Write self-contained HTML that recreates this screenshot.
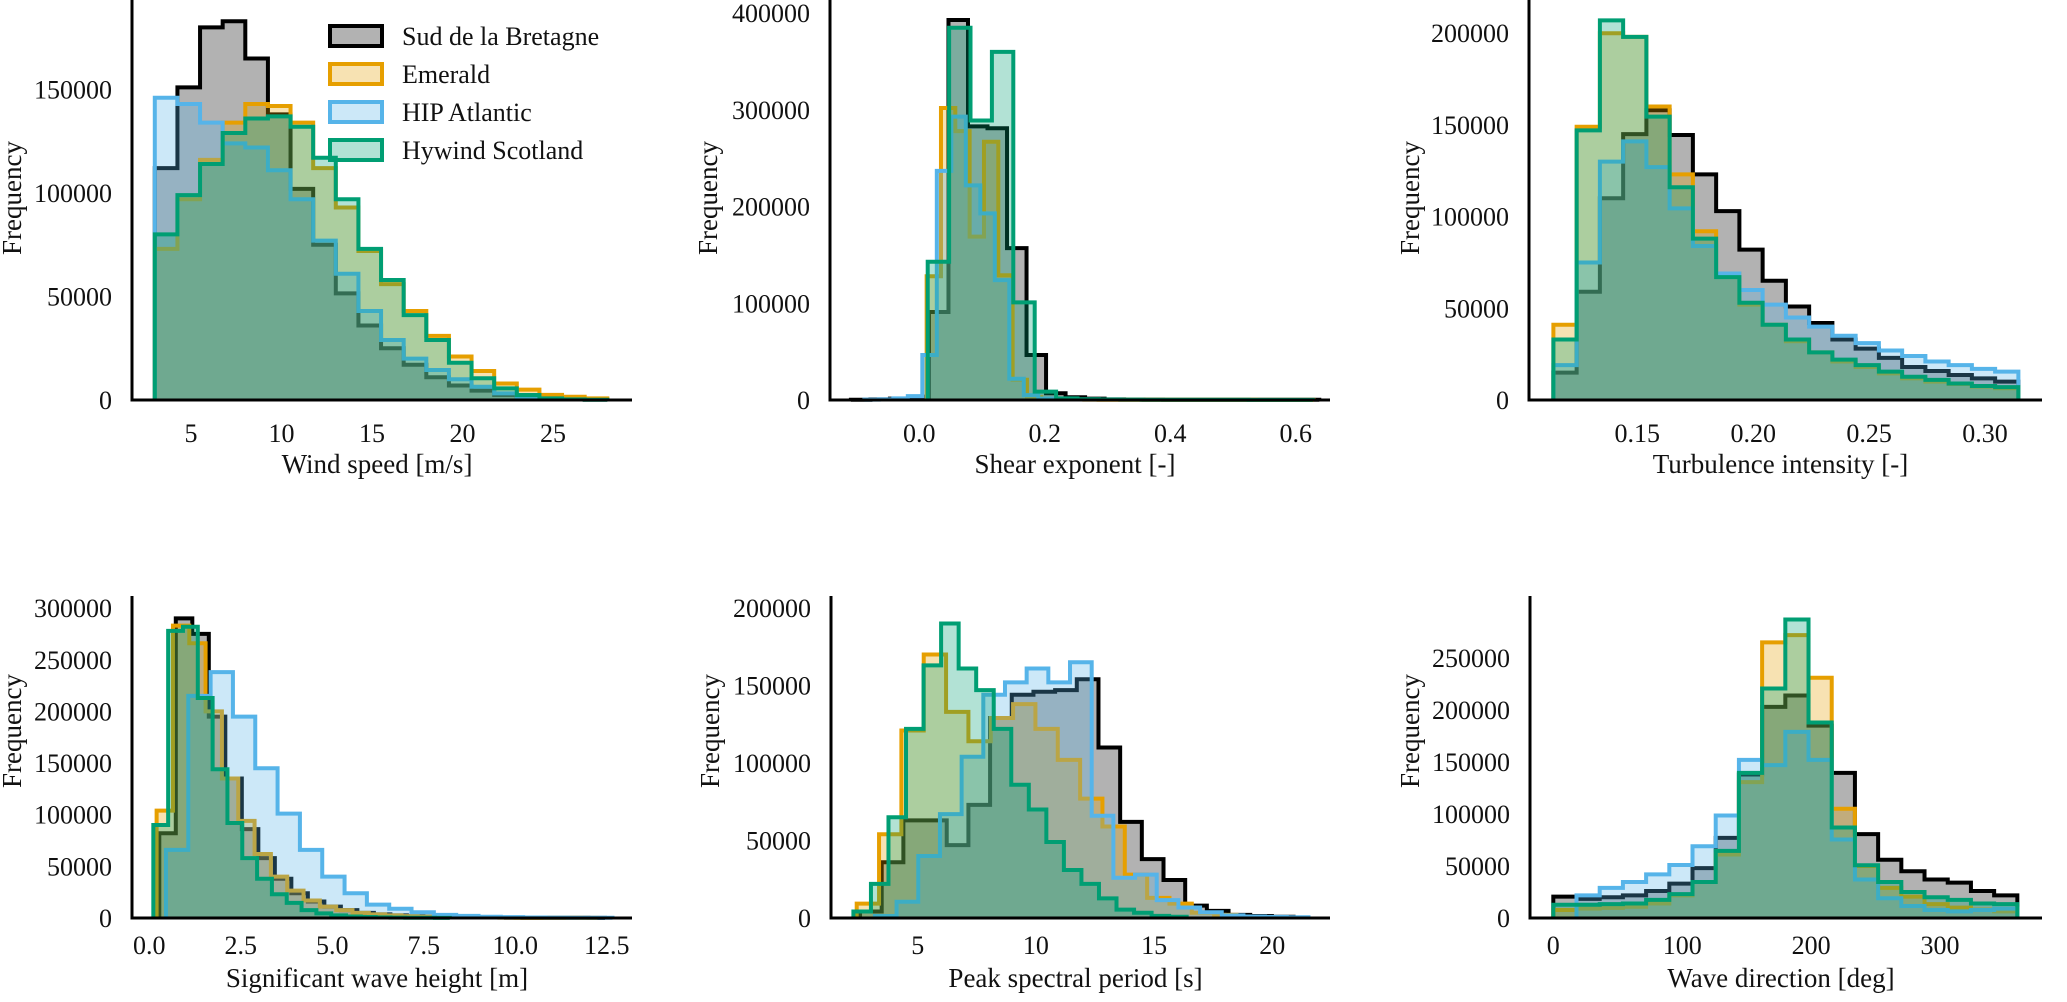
<!DOCTYPE html>
<html><head><meta charset="utf-8">
<style>
html,body{margin:0;padding:0;background:#fff;}
svg{display:block;}
svg text{font-family:"Liberation Serif","DejaVu Serif",serif;fill:#111;}
</style></head>
<body>
<svg id="fig" xmlns="http://www.w3.org/2000/svg" width="2067" height="1002" viewBox="0 0 2067 1002"></svg>
<script>
// ---------- data (counts) ----------
const seriesNames = ["Sud de la Bretagne","Emerald","HIP Atlantic","Hywind Scotland"];

// Panel 1: wind speed
const p1Start = [3.0,3.0,3.0,3.0];
const p1Width = [1.25,1.25,1.25,1.25];
const p1Sud = [112000,151000,180000,183000,165000,138000,102000,75000,51500,36000,25000,17000,11000,7000,4500,2500,1300,600,300,200];
const p1Emerald = [73000,97000,116000,134000,143000,142000,134000,112000,93000,72000,56000,43000,31000,21000,14000,8000,5000,2500,1600,800];
const p1Hip = [146000,143000,134000,124000,122000,111000,97000,77000,61000,43000,29000,20000,14500,10000,6400,3200,1300,500];
const p1Hywind = [80000,99000,114000,129000,136000,137000,132000,117000,97000,73000,58000,41000,29000,18000,10500,5600,2400,800,300,100];
const p1XTicks = [5,10,15,20,25];
const p1YTicks = [0,50000,100000,150000];

// Panel 2: shear exponent
const p2Start = [-0.109,0.0117,-0.0876,0.0134];
const p2Width = [0.0311,0.02284,0.0231,0.0341];
const p2Sud = [300,700,1400,3500,91000,393000,283000,281000,157000,46600,7000,2800,1400,700,500,400,300,300,300,200,200,200,200,200];
const p2Emerald = [128000,302000,278000,169000,267000,129000,21000,2800,1200,800,500,400,300,300,300,200,200,200,200,200,200,200,200,100,100,100,100];
const p2Hip = [400,600,1700,4000,46600,237000,293000,222000,193000,124000,22000,5000,1500,500];
const p2Hywind = [143000,385000,289000,360000,101000,8600,1700,800,500,400,300,300,200,200,200,100,100,100];
const p2XTicks = [0.0,0.2,0.4,0.6];
const p2YTicks = [0,100000,200000,300000,400000];

// Panel 3: turbulence intensity
const p3Start = [0.1138,0.1138,0.1138,0.1138];
const p3Width = [0.01003,0.01003,0.01003,0.01003];
const p3Sud = [14900,59000,110000,145000,158000,144500,123000,103000,82000,65000,51000,42000,33000,28000,23000,18000,15800,13600,11800,10000];
const p3Emerald = [41000,149000,200000,198000,160000,123000,92000,69000,52000,41000,32000,26000,21000,18000,14500,11800,10000,8700,7300,6400];
const p3Hip = [19000,75000,130000,141000,127000,104500,84000,69000,60000,52000,45000,40000,35000,31000,27000,24000,21000,19000,17000,15500];
const p3Hywind = [33000,147000,207000,198000,154500,116000,88000,67000,53000,41000,33000,26000,22000,19000,15500,12700,11000,9000,7600,7000];
const p3XTicks = [0.15,0.20,0.25,0.30];
const p3YTicks = [0,50000,100000,150000,200000];

// Panel 4: significant wave height
const p4Start = [0.273,0.20,0.455,0.11];
const p4Width = [0.451,0.446,0.61,0.405];
const p4Sud = [82000,290000,275000,195000,135000,86000,58000,38000,24000,16000,11000,7600,5000,3500,2500,1800,1300,1000,800,600,500,400,300,300,200,200,100];
const p4Emerald = [104000,283000,266000,200000,135000,94000,62000,40000,26500,17000,11000,7600,5000,3500,2500,1800,1300,1000,800,600,500,400,300,300,200,200,100];
const p4Hip = [66000,215000,238000,195000,145000,101000,66000,40000,24000,13000,9000,5600,3000,2000,1200,800,500,400,300,200];
const p4Hywind = [90000,278000,282000,213000,144000,92000,58000,38000,23000,14700,7600,4500,2500,1500,1000,600,400,300,200,100];
const p4XTicks = [0.0,2.5,5.0,7.5,10.0,12.5];
const p4YTicks = [0,50000,100000,150000,200000,250000,300000];

// Panel 5: peak spectral period
const p5Start = [2.56,2.42,3.19,2.28];
const p5Width = [0.917,0.945,0.917,0.742];
const p5Sud = [4200,36000,63000,63000,47000,73000,129000,144000,146000,147000,154000,110000,62000,38000,24500,8000,4600,2000,1300,800];
const p5Emerald = [9300,54000,121000,170000,133000,114000,129000,138000,122000,102000,77000,59000,28000,13000,9300,3400,2000,1000,600];
const p5Hip = [1300,10500,40000,67000,104000,144000,152000,161000,152000,165000,66000,26000,28000,11500,6800,3700,1700,1000,700,500];
const p5Hywind = [4200,22000,65000,122000,163000,190000,161000,147000,122000,86000,70000,49000,31000,22000,12700,5400,3400,1400,800];
const p5XTicks = [5,10,15,20];
const p5YTicks = [0,50000,100000,150000,200000];

// Panel 6: wave direction
const p6Start = [0,0,18,0];
const p6Width = [18,18,18,18];
const p6Sud = [20500,18400,20000,21800,26000,33000,48000,77000,138000,203000,214000,185000,139500,80600,56000,45000,37000,34000,26000,21800];
const p6Emerald = [7700,9000,9700,10800,14000,21800,34600,61000,130600,265000,272000,231000,105000,50000,29000,20500,13300,10000,8000,6400];
const p6Hip = [21800,29000,34600,42000,51000,69000,98600,152000,147000,179000,152000,75500,37000,19000,11500,7700,6400,7700,9000];
const p6Hywind = [12800,12800,13300,14000,17400,23000,34600,64500,139500,220700,287000,188000,87000,50700,34600,25000,20000,17400,14000,13300];
const p6XTicks = [0,100,200,300];
const p6YTicks = [0,50000,100000,150000,200000,250000];

// ---------- layout ----------
const colors = ["#000000","#E69F00","#56B4E9","#009E73"];
const FONT = "'Liberation Serif', 'DejaVu Serif', serif";
const NS = "http://www.w3.org/2000/svg";
const svg = document.getElementById("fig");

function mk(tag, attrs, parent){
  const e = document.createElementNS(NS, tag);
  for (const k in attrs) e.setAttribute(k, attrs[k]);
  if (tag === "text") e.setAttribute("font-family", FONT);
  (parent||svg).appendChild(e);
  return e;
}

function panel(cfg){
  const g = mk("g", {});
  
  
  const xs = v => cfg.xa + (v - cfg.xv) * cfg.xk;
  const ys = v => cfg.y0 - v * cfg.yk;
  for (let s = 0; s < 4; s++){
    const vals = cfg.series[s], st = cfg.start[s], w = cfg.width[s];
    let d = "M" + xs(st) + "," + ys(0);
    for (let i = 0; i < vals.length; i++){
      const xl = xs(st + i*w), xr = xs(st + (i+1)*w), y = ys(vals[i]);
      d += " L" + xl + "," + y + " L" + xr + "," + y;
    }
    d += " L" + xs(st + vals.length*w) + "," + ys(0);
    const fill = mk("path", {d: d + " Z", fill: colors[s], "fill-opacity": 0.3, stroke: "none"}, g);
    
    
    const line = mk("path", {d: d, fill: "none", stroke: colors[s], "stroke-width": 4, "stroke-linejoin": "miter"}, g);
    
    
  }
  const ls = mk("line", {x1: cfg.left, y1: cfg.top, x2: cfg.left, y2: cfg.y0+1.5, stroke: "#000", "stroke-width": 3}, g);
  
  
  const bs = mk("line", {x1: cfg.left-1.5, y1: cfg.y0, x2: cfg.right, y2: cfg.y0, stroke: "#000", "stroke-width": 3}, g);
  
  
  cfg.yticks.forEach(t => {
    const tx = mk("text", {x: cfg.left - 20, y: ys(t) + 9, "text-anchor": "end", "font-size": 26}, g);
    tx.textContent = String(t);
    
    
  });
  cfg.xticks.forEach(t => {
    const tx = mk("text", {x: xs(t), y: cfg.xtickY, "text-anchor": "middle", "font-size": 26}, g);
    tx.textContent = t.toFixed(cfg.dec);
    
    
  });
  const xl = mk("text", {x: (cfg.left + cfg.right)/2 - 5, y: cfg.xlabelY, "text-anchor": "middle", "font-size": 27}, g);
  xl.textContent = cfg.xlabel;
  
  
  const yl = mk("text", {x: 0, y: 0, "text-anchor": "middle", "font-size": 27,
    transform: "translate(" + (cfg.ylabX) + "," + cfg.ylabY + ") rotate(-90)"}, g);
  yl.textContent = "Frequency";
  
  
}

const R1 = {top: 0, y0: 400, xtickY: 442, xlabelY: 473, ylabY: 198};
const R2 = {top: 596, y0: 918, xtickY: 954, xlabelY: 987, ylabY: 731};

panel(Object.assign({name:"wind-speed-panel", key:"p1", left:132, right:632, xa:191, xv:5, xk:18.1, yk:0.00207,
  start:p1Start, width:p1Width, series:[p1Sud,p1Emerald,p1Hip,p1Hywind], xticks:p1XTicks, yticks:p1YTicks, dec:0,
  xlabel:"Wind speed [m/s]", ylabX: 21}, R1));
panel(Object.assign({name:"shear-exponent-panel", key:"p2", left:830, right:1330, xa:919.3, xv:0, xk:627.5, yk:0.000967,
  start:p2Start, width:p2Width, series:[p2Sud,p2Emerald,p2Hip,p2Hywind], xticks:p2XTicks, yticks:p2YTicks, dec:1,
  xlabel:"Shear exponent [-]", ylabX: 717}, R1));
panel(Object.assign({name:"turbulence-intensity-panel", key:"p3", left:1529, right:2042, xa:1637.3, xv:0.15, xk:2318, yk:0.001834,
  start:p3Start, width:p3Width, series:[p3Sud,p3Emerald,p3Hip,p3Hywind], xticks:p3XTicks, yticks:p3YTicks, dec:2,
  xlabel:"Turbulence intensity [-]", ylabX: 1419}, R1));
panel(Object.assign({name:"wave-height-panel", key:"p4", left:132, right:632, xa:149.3, xv:0, xk:36.6, yk:0.001033,
  start:p4Start, width:p4Width, series:[p4Sud,p4Emerald,p4Hip,p4Hywind], xticks:p4XTicks, yticks:p4YTicks, dec:1,
  xlabel:"Significant wave height [m]", ylabX: 21}, R2));
panel(Object.assign({name:"peak-period-panel", key:"p5", left:831, right:1330, xa:917.7, xv:5, xk:23.64, yk:0.00155,
  start:p5Start, width:p5Width, series:[p5Sud,p5Emerald,p5Hip,p5Hywind], xticks:p5XTicks, yticks:p5YTicks, dec:0,
  xlabel:"Peak spectral period [s]", ylabX: 719}, R2));
panel(Object.assign({name:"wave-direction-panel", key:"p6", left:1530, right:2042, xa:1553.3, xv:0, xk:1.289, yk:0.00104,
  start:p6Start, width:p6Width, series:[p6Sud,p6Emerald,p6Hip,p6Hywind], xticks:p6XTicks, yticks:p6YTicks, dec:0,
  xlabel:"Wave direction [deg]", ylabX: 1419}, R2));

// legend
const lg = mk("g", {});


const legY = [36, 74, 112, 150];
for (let s = 0; s < 4; s++){
  const r = mk("rect", {x: 330, y: legY[s]-10, width: 52, height: 20, fill: colors[s], "fill-opacity": 0.3, stroke: colors[s], "stroke-width": 4}, lg);
  
  
  const t = mk("text", {x: 402, y: legY[s] + 9, "font-size": 26}, lg);
  t.textContent = seriesNames[s];
  
  
}
</script>
</body></html>
